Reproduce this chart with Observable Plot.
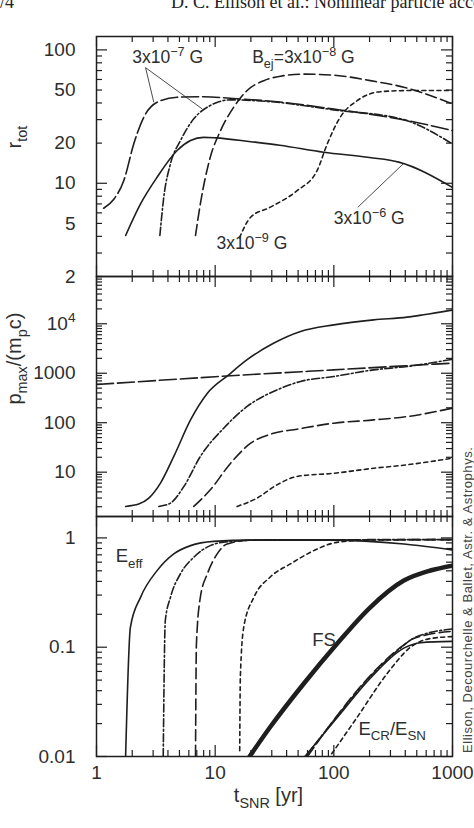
<!DOCTYPE html>
<html><head><meta charset="utf-8">
<script src="https://cdn.jsdelivr.net/npm/d3@7"></script>
<script src="https://cdn.jsdelivr.net/npm/@observablehq/plot@0.6"></script>
<style>
body{margin:0;background:#fff;}
#wrap{position:relative;width:474px;height:828px;overflow:hidden;background:#fff;}
.panel{position:absolute;left:0;}
#hdr{position:absolute;top:-7px;left:0;width:700px;white-space:nowrap;font-family:"Liberation Serif","Times New Roman",serif;font-size:18px;line-height:18px;color:#222;}
#side{position:absolute;left:461px;top:753px;transform:rotate(-90deg);transform-origin:0 0;white-space:nowrap;font-family:"Liberation Sans",Arial,sans-serif;font-size:13px;letter-spacing:0.55px;line-height:14px;color:#444;}
</style></head><body><div id="wrap">
<div id="hdr"><span>/4</span><span style="position:absolute;left:171px">D. C. Ellison et al.: Nonlinear particle acceleration</span></div>
<div id="side">Ellison, Decourchelle &amp; Ballet, Astr. &amp; Astrophys.</div>
</div>
<script>
// ---------- axis ticks / labels ----------
const xDomain = [1, 1000];
const xMajor = [1, 10, 100, 1000];
const xMinor = [2,3,4,5,6,7,8,9,20,30,40,50,60,70,80,90,200,300,400,500,600,700,800,900];
const xLabels = ["1", "10", "100", "1000"];

const rDomain = [2, 126];
const rMajor = [10, 100];
const rMinor = [2,3,4,5,6,7,8,9,20,30,40,50,60,70,80,90];
const rLabelVals = [2, 5, 10, 20, 50, 100];
const rLabels = ["2", "5", "10", "20", "50", "100"];

const pDomain = [1.27, 90300];
const pMajor = [10, 100, 1000, 10000];
const pMinor = [2,3,4,5,6,7,8,9,20,30,40,50,60,70,80,90,200,300,400,500,600,700,800,900,
  2000,3000,4000,5000,6000,7000,8000,9000,20000,30000,40000,50000,60000,70000,80000,90000];
const pLabelVals = [10, 100, 1000, 10000];
const pLabels = ["10", "100", "1000", "10^{4}"];

const eDomain = [0.01, 1.57];
const eMajor = [0.01, 0.1, 1];
const eMinor = [0.02,0.03,0.04,0.05,0.06,0.07,0.08,0.09,0.2,0.3,0.4,0.5,0.6,0.7,0.8,0.9];
const eLabelVals = [0.01, 0.1, 1];
const eLabels = ["0.01", "0.1", "1"];

// ---------- panel 1: r_tot ----------
const r_S_t  = [1.76, 2.35, 3.24, 4.78, 6.2, 8.0, 10.1, 20, 35, 82, 200, 353, 1000];
const r_S_v  = [4.06, 7.0, 11.1, 17.6, 20.9, 22.1, 21.9, 20.5, 19.3, 17.1, 15.6, 14.4, 9.3];
const r_L_t  = [1.15, 1.4, 1.7, 2.06, 2.5, 3.24, 4.78, 8, 15.3, 30, 100, 443, 1000];
const r_L_v  = [6.5, 7.6, 10.5, 19.7, 31.2, 40.5, 44.2, 44.5, 43, 41.2, 36, 29.2, 24.8];
const r_DD_t = [3.42, 3.69, 4.2, 5.1, 6.6, 9.1, 13.5, 30, 100, 387, 1000];
const r_DD_v = [4.06, 7.86, 14.0, 20.9, 30.4, 38.3, 42.2, 40.8, 35.5, 30.0, 19.7];
const r_D_t  = [6.83, 7.5, 9.1, 11.1, 14.3, 18.6, 25.7, 35.5, 55.7, 106, 203, 389, 1000];
const r_D_v  = [4.06, 7.0, 15.7, 24.8, 37.1, 49.6, 58.8, 63.5, 65.8, 64.3, 58.8, 52.5, 39.4];
const r_P_t  = [16, 19.9, 29, 49, 72.4, 88, 113, 157, 247, 457, 1000];
const r_P_v  = [3.9, 5.56, 6.6, 8.8, 12.5, 19.7, 31.2, 41.6, 48.6, 49.6, 49.6];

// ---------- panel 2: p_max ----------
const p_S_t  = [1.76, 2.27, 2.76, 3.46, 4.48, 6.2, 8.6, 13.0, 18.6, 31, 52.4, 100, 217, 414, 570, 1000];
const p_S_v  = [2.03, 2.26, 2.98, 6.0, 20.8, 114, 395, 931, 1880, 4040, 7000, 9500, 12000, 13600, 15200, 19000];
const p_L_t  = [1, 10, 100, 1000];
const p_L_v  = [590, 850, 1170, 1600];
const p_DD_t = [3.35, 4.2, 5.44, 7.5, 11.8, 18.6, 33.3, 52.4, 100, 217, 414, 1000];
const p_DD_v = [2.03, 2.37, 5.1, 20.8, 77.5, 213, 462, 683, 860, 1170, 1370, 1920];
const p_D_t  = [6.6, 9.1, 13.5, 19.9, 31, 49, 100, 217, 414, 1000];
const p_D_v  = [2.03, 4.4, 15.2, 38.5, 61, 74, 97.8, 114, 133, 197];
const p_P_t  = [15.3, 22.5, 33.3, 49, 100, 217, 414, 1000];
const p_P_v  = [2.03, 2.98, 5.56, 8.2, 9.5, 12.0, 14.1, 19.2];

// ---------- panel 3: E_eff, FS, E_CR/E_SN ----------
const e_S_t  = [1.76, 1.93, 2.35, 3.24, 4.48, 6.2, 9.7, 20, 90, 390, 1000];
const e_S_v  = [0.0102, 0.152, 0.286, 0.502, 0.714, 0.85, 0.93, 0.955, 0.955, 0.88, 0.777];
const e_DD_t = [3.65, 3.8, 4.2, 5.1, 6.6, 9.1, 13.5, 30, 1000];
const e_DD_v = [0.01, 0.175, 0.286, 0.47, 0.665, 0.85, 0.93, 0.96, 0.965];
const e_D_t  = [6.83, 6.95, 7.5, 8.6, 10.4, 12.6, 20, 1000];
const e_D_v  = [0.01, 0.107, 0.286, 0.47, 0.714, 0.88, 0.955, 0.965];
const e_P_t  = [16.1, 16.3, 17.4, 21.2, 29, 43, 67.8, 106, 200, 1000];
const e_P_v  = [0.0113, 0.053, 0.152, 0.286, 0.437, 0.578, 0.765, 0.91, 0.955, 0.965];
const fs_t   = [19.5, 29, 55.7, 106, 203, 389, 651, 1000];
const fs_v   = [0.01, 0.0185, 0.0463, 0.107, 0.232, 0.407, 0.503, 0.558];
const cr_S_t  = [57, 106, 203, 389, 540, 1000];
const cr_S_v  = [0.01, 0.0225, 0.052, 0.098, 0.11, 0.113];
const cr_D_t  = [60, 106, 203, 389, 470, 1000];
const cr_D_v  = [0.01, 0.0235, 0.055, 0.105, 0.12, 0.14];
const cr_DD_t = [58, 106, 203, 389, 470, 1000];
const cr_DD_v = [0.01, 0.0232, 0.054, 0.104, 0.121, 0.147];
const cr_P_t  = [96, 157, 280, 443, 651, 1000];
const cr_P_v  = [0.0106, 0.0228, 0.057, 0.1, 0.12, 0.125];

// ---------- annotations ----------
const ann1 = [
  {t: 2.0, v: 88, text: "3x10^{−7} G"},
  {t: 20.5, v: 88, text: "B_{ej}=3x10^{−8} G"},
  {t: 100, v: 5.43, text: "3x10^{−6} G"},
  {t: 10.26, v: 3.53, text: "3x10^{−9} G"}
];
const ptr1 = [
  {t1: 2.59, v1: 73.6, t2: 3.04, v2: 40.5},
  {t1: 2.59, v1: 73.6, t2: 7.78, v2: 36.1},
  {t1: 388, v1: 14.1, t2: 159, v2: 6.6}
];
const ann3 = [
  {t: 1.45, v: 0.675, text: "E_{eff}"},
  {t: 65.7, v: 0.115, text: "FS"},
  {t: 161, v: 0.018, text: "E_{CR}/E_{SN}"}
];

// ---------- helpers ----------
const zip = (ts, vs) => ts.map((t, i) => ({t, v: vs[i]}));
const W = 474, ML = 96, MR = 22, FW = W - ML - MR, PH = 240;
const INK = "#1e1e1e", TXT = "#2e2e2e";
const DASH = {S: null, L: "17,4", DD: "8,2.5,1.8,2.5", D: "11,4.5", P: "4,3.5"};
const FONT = "'Liberation Sans', Arial, Helvetica, sans-serif";
const LW = 1.6;

function tickMarks(yMajor, yMinor) {
  const s = {stroke: INK, strokeWidth: 1.2};
  return [
    Plot.ruleX(xMajor, {x: d => d, insetTop: PH - 11, ...s}),
    Plot.ruleX(xMinor, {x: d => d, insetTop: PH - 6, ...s}),
    Plot.ruleX(xMajor, {x: d => d, insetBottom: PH - 11, ...s}),
    Plot.ruleX(xMinor, {x: d => d, insetBottom: PH - 6, ...s}),
    Plot.ruleY(yMajor, {y: d => d, insetRight: FW - 11, ...s}),
    Plot.ruleY(yMinor, {y: d => d, insetRight: FW - 6, ...s}),
    Plot.ruleY(yMajor, {y: d => d, insetLeft: FW - 11, ...s}),
    Plot.ruleY(yMinor, {y: d => d, insetLeft: FW - 6, ...s})
  ];
}
function lineMark(data, key, w = LW) {
  return Plot.line(data, {x: "t", y: "v", stroke: INK, strokeWidth: w, strokeDasharray: DASH[key], curve: "monotone-x", clip: true});
}
function yLabelMark(vals, labels) {
  return Plot.text(vals, {y: d => d, text: (d, i) => labels[i], frameAnchor: "left", dx: -21, textAnchor: "end", fontSize: 19, fill: TXT});
}

function richify(svg) {
  svg.querySelectorAll("text").forEach(el => {
    const s = el.textContent;
    if (!/[\^_]\{/.test(s)) return;
    const fs = parseFloat(getComputedStyle(el).fontSize) || 18;
    el.textContent = "";
    let off = 0, m;
    const re = /([\^_])\{([^}]*)\}|([^\^_]+)/g;
    while ((m = re.exec(s))) {
      const ts = document.createElementNS("http://www.w3.org/2000/svg", "tspan");
      let target = 0, text;
      if (m[1]) {
        target = m[1] === "^" ? -0.4 * fs : 0.3 * fs;
        text = m[2];
        ts.setAttribute("font-size", (0.72 * fs).toFixed(1));
      } else text = m[3];
      const d = target - off;
      if (d) ts.setAttribute("dy", d.toFixed(2));
      off = target;
      ts.textContent = text;
      el.appendChild(ts);
    }
  });
}

function panel({top, height, marginTop, marginBottom, yDomain, marks}) {
  const svg = Plot.plot({
    width: W, height, marginTop, marginBottom, marginLeft: ML, marginRight: MR,
    x: {type: "log", domain: xDomain, axis: null},
    y: {type: "log", domain: yDomain, axis: null},
    style: {background: "transparent", fontFamily: FONT, color: TXT, overflow: "visible"},
    marks
  });
  svg.classList.add("panel");
  svg.style.top = top + "px";
  svg.style.position = "absolute";
  document.getElementById("wrap").appendChild(svg);
  richify(svg);
  return svg;
}

// Panel 1
panel({
  top: 0, height: 280, marginTop: 36, marginBottom: 4, yDomain: rDomain,
  marks: [
    ...tickMarks(rMajor, rMinor),
    lineMark(zip(r_L_t, r_L_v), "L"),
    lineMark(zip(r_S_t, r_S_v), "S"),
    lineMark(zip(r_DD_t, r_DD_v), "DD"),
    lineMark(zip(r_D_t, r_D_v), "D"),
    lineMark(zip(r_P_t, r_P_v), "P"),
    Plot.link(ptr1, {x1: "t1", y1: "v1", x2: "t2", y2: "v2", stroke: INK, strokeWidth: 0.8}),
    Plot.text(ann1, {x: "t", y: "v", text: "text", textAnchor: "start", fontSize: 17.5, fill: TXT}),
    yLabelMark(rLabelVals, rLabels),
    Plot.text(["r_{tot}"], {frameAnchor: "left", dx: -82, dy: -8, rotate: -90, fontSize: 20, fill: TXT}),
    Plot.frame({stroke: INK, strokeWidth: 1.5})
  ]
});

// Panel 2
panel({
  top: 272, height: 248, marginTop: 4, marginBottom: 4, yDomain: pDomain,
  marks: [
    ...tickMarks(pMajor, pMinor),
    lineMark(zip(p_L_t, p_L_v), "L"),
    lineMark(zip(p_S_t, p_S_v), "S"),
    lineMark(zip(p_DD_t, p_DD_v), "DD"),
    lineMark(zip(p_D_t, p_D_v), "D"),
    lineMark(zip(p_P_t, p_P_v), "P"),
    yLabelMark(pLabelVals, pLabels),
    Plot.text(["p_{max}/(m_{p}c)"], {frameAnchor: "left", dx: -82, dy: 8, rotate: -90, fontSize: 20, fill: TXT}),
    Plot.frame({stroke: INK, strokeWidth: 1.5})
  ]
});

// Panel 3
panel({
  top: 512, height: 316, marginTop: 4, marginBottom: 72, yDomain: eDomain,
  marks: [
    ...tickMarks(eMajor, eMinor),
    lineMark(zip(e_S_t, e_S_v), "S"),
    lineMark(zip(e_DD_t, e_DD_v), "DD"),
    lineMark(zip(e_D_t, e_D_v), "D"),
    lineMark(zip(e_P_t, e_P_v), "P"),
    lineMark(zip(fs_t, fs_v), "S", 4.5),
    lineMark(zip(cr_S_t, cr_S_v), "S"),
    lineMark(zip(cr_D_t, cr_D_v), "D"),
    lineMark(zip(cr_DD_t, cr_DD_v), "DD"),
    lineMark(zip(cr_P_t, cr_P_v), "P"),
    Plot.text(ann3, {x: "t", y: "v", text: "text", textAnchor: "start", fontSize: 18.5, fill: TXT}),
    yLabelMark(eLabelVals, eLabels),
    Plot.text(xMajor, {x: d => d, text: (d, i) => xLabels[i], frameAnchor: "bottom", dy: 22, fontSize: 19, fill: TXT}),
    Plot.text(["t_{SNR} [yr]"], {frameAnchor: "bottom", dx: -6, dy: 45, fontSize: 20, fill: TXT}),
    Plot.frame({stroke: INK, strokeWidth: 1.5})
  ]
});
</script>
</body></html>
